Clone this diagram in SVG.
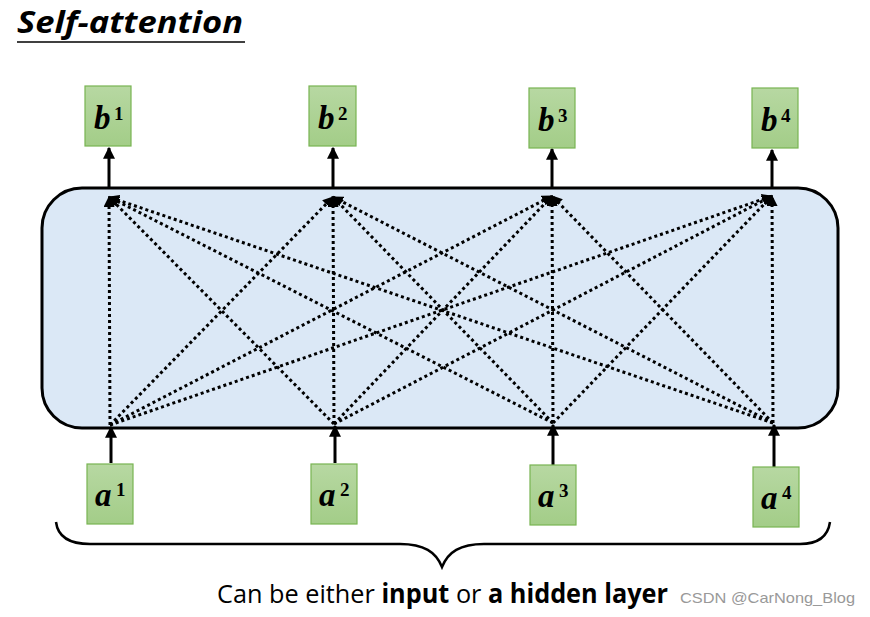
<svg xmlns="http://www.w3.org/2000/svg" width="870" height="617" viewBox="0 0 870 617">
<defs>
<linearGradient id="g" x1="0" y1="0" x2="0" y2="1"><stop offset="0" stop-color="#b7d8a2"/><stop offset="1" stop-color="#a3cd88"/></linearGradient>
<marker id="ah" viewBox="0 0 10 10" refX="9" refY="5" markerWidth="12" markerHeight="12" markerUnits="userSpaceOnUse" orient="auto"><path d="M0,0 L10,5 L0,10 z" fill="#000"/></marker>
<marker id="dh" viewBox="0 0 10 10" refX="9" refY="5" markerWidth="11" markerHeight="11" markerUnits="userSpaceOnUse" orient="auto"><path d="M0,0 L10,5 L0,10 z" fill="#000"/></marker>
</defs>
<style>
.box{fill:url(#g);stroke:#78b452;stroke-width:1.2}
.v{font-family:"Liberation Serif",serif;font-weight:bold;font-style:italic;font-size:33px;fill:#000}
.s{font-family:"Liberation Serif",serif;font-weight:bold;font-size:19px;fill:#000}
.sol{stroke:#000;stroke-width:3;fill:none;marker-end:url(#ah)}
.dot{stroke:#000;stroke-width:3;fill:none;stroke-dasharray:3 3;marker-end:url(#dh)}
</style>
<rect width="870" height="617" fill="#fff"/>
<text x="17" y="33" font-family="'Open Sans','Liberation Sans',sans-serif" font-weight="bold" font-style="italic" font-size="30" textLength="226" lengthAdjust="spacingAndGlyphs">Self-attention</text>
<line x1="17" y1="42" x2="245" y2="42" stroke="#000" stroke-width="1.5"/>
<g id="layer"><rect x="42" y="188" width="796" height="240" rx="40" ry="40" fill="#dbe8f6" stroke="#000" stroke-width="3"/></g>
<g id="connectors">
<line class="sol" x1="109" y1="187" x2="109" y2="148"/>
<line class="sol" x1="333" y1="187" x2="333" y2="148"/>
<line class="sol" x1="552" y1="187" x2="552" y2="149"/>
<line class="sol" x1="772" y1="187" x2="772" y2="150"/>
<line class="sol" x1="111" y1="463" x2="111" y2="427"/>
<line class="sol" x1="335" y1="463" x2="335" y2="426"/>
<line class="sol" x1="553" y1="465" x2="553" y2="425"/>
<line class="sol" x1="774" y1="467" x2="774" y2="425"/>
<line class="dot" x1="110" y1="425" x2="109" y2="197"/>
<line class="dot" x1="110" y1="425" x2="333" y2="197"/>
<line class="dot" x1="110" y1="425" x2="552" y2="196"/>
<line class="dot" x1="110" y1="425" x2="772" y2="196"/>
<line class="dot" x1="334" y1="424" x2="109" y2="197"/>
<line class="dot" x1="334" y1="424" x2="333" y2="197"/>
<line class="dot" x1="334" y1="424" x2="552" y2="196"/>
<line class="dot" x1="334" y1="424" x2="772" y2="196"/>
<line class="dot" x1="553" y1="423" x2="109" y2="197"/>
<line class="dot" x1="553" y1="423" x2="333" y2="197"/>
<line class="dot" x1="553" y1="423" x2="552" y2="196"/>
<line class="dot" x1="553" y1="423" x2="772" y2="196"/>
<line class="dot" x1="773" y1="423" x2="109" y2="197"/>
<line class="dot" x1="773" y1="423" x2="333" y2="197"/>
<line class="dot" x1="773" y1="423" x2="552" y2="196"/>
<line class="dot" x1="773" y1="423" x2="772" y2="196"/>
</g>
<g id="b1"><rect class="box" x="85" y="86" width="46" height="60"/><text class="v" x="94" y="129">b</text><text class="s" x="114" y="120">1</text></g>
<g id="b2"><rect class="box" x="309" y="86" width="47" height="60"/><text class="v" x="318" y="129">b</text><text class="s" x="338" y="120">2</text></g>
<g id="b3"><rect class="box" x="529" y="88" width="46" height="60"/><text class="v" x="538" y="131">b</text><text class="s" x="558" y="122">3</text></g>
<g id="b4"><rect class="box" x="752" y="88" width="46" height="60"/><text class="v" x="761" y="131">b</text><text class="s" x="781" y="122">4</text></g>
<g id="a1"><rect class="box" x="87" y="464" width="46" height="60"/><text class="v" x="95" y="506">a</text><text class="s" x="116" y="496">1</text></g>
<g id="a2"><rect class="box" x="311" y="464" width="46" height="60"/><text class="v" x="319" y="506">a</text><text class="s" x="340" y="496">2</text></g>
<g id="a3"><rect class="box" x="530" y="465" width="46" height="60"/><text class="v" x="538" y="507">a</text><text class="s" x="559" y="497">3</text></g>
<g id="a4"><rect class="box" x="753" y="467" width="46" height="60"/><text class="v" x="761" y="509">a</text><text class="s" x="782" y="499">4</text></g>
<path d="M56,522 C58,538 72,544 90,544 L400,544 C424,544 436,552 442,567 C448,552 460,544 484,544 L800,544 C818,544 828,536 830,522" fill="none" stroke="#000" stroke-width="2.5"/>
<text x="217" y="603" font-family="'Open Sans','Liberation Sans',sans-serif" font-size="26" textLength="451" lengthAdjust="spacingAndGlyphs">Can be either <tspan font-weight="bold">input</tspan> or <tspan font-weight="bold">a hidden layer</tspan></text>
<text x="680" y="603" font-family="'Liberation Sans',sans-serif" font-size="15" fill="#999" textLength="175" lengthAdjust="spacingAndGlyphs">CSDN @CarNong_Blog</text>
</svg>
